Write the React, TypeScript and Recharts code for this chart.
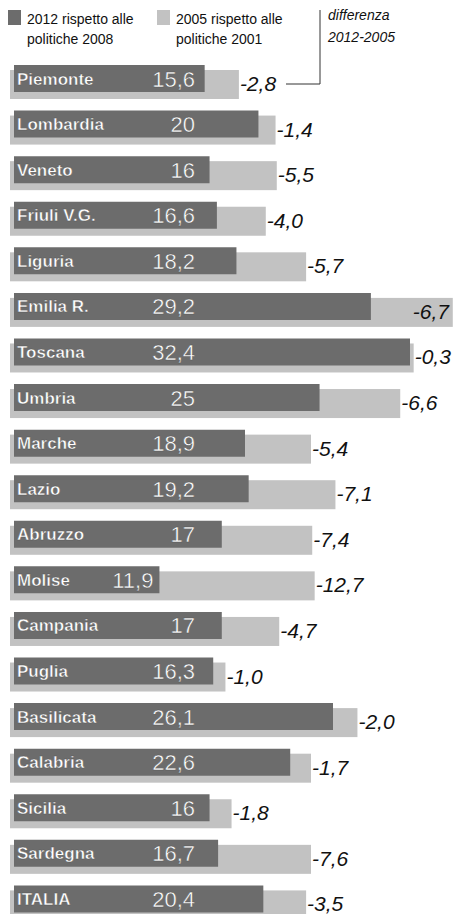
import React from "react";
import { BarChart, Bar, XAxis, YAxis, LabelList } from "recharts";

const regions = [
  "Piemonte", "Lombardia", "Veneto", "Friuli V.G.", "Liguria", "Emilia R.", "Toscana",
  "Umbria", "Marche", "Lazio", "Abruzzo", "Molise", "Campania", "Puglia", "Basilicata",
  "Calabria", "Sicilia", "Sardegna", "ITALIA",
];
const values2012 = [15.6, 20, 16, 16.6, 18.2, 29.2, 32.4, 25, 18.9, 19.2, 17, 11.9, 17, 16.3, 26.1, 22.6, 16, 16.7, 20.4];
const diff20122005 = [-2.8, -1.4, -5.5, -4.0, -5.7, -6.7, -0.3, -6.6, -5.4, -7.1, -7.4, -12.7, -4.7, -1.0, -2.0, -1.7, -1.8, -7.6, -3.5];

const data = regions.map((name, i) => ({
  name,
  v2012: values2012[i],
  diff: diff20122005[i],
  v2005: +(values2012[i] - diff20122005[i]).toFixed(1),
}));

const FONT = "'Liberation Sans', Arial, sans-serif";
const DARK = "#6c6c6c";
const LIGHT = "#c2c2c2";
const fmt = (v: number) => String(v).replace(".", ",");

const LightShape = (p: any) => (
  <rect x={p.x - 4} y={p.y + 5} width={p.width + 4} height={p.height + 1} fill={LIGHT} />
);

const NameLabel = (p: any) => (
  <text
    x={p.x + 3}
    y={p.y + p.height / 2 + 6}
    fontFamily={FONT}
    fontSize={17}
    fontWeight="bold"
    fill="#fff"
    stroke="#555"
    strokeWidth={0.4}
  >
    {p.value}
  </text>
);

const ValueLabel = (p: any) => {
  const end = Math.min(195, p.x + p.width - 6);
  return (
    <text
      x={end}
      y={p.y + p.height / 2 + 8}
      textAnchor="end"
      fontFamily={FONT}
      fontSize={22}
      fill="#fff"
      stroke="#555"
      strokeWidth={0.4}
    >
      {fmt(p.value)}
    </text>
  );
};

const DiffLabel = (p: any) => {
  const end = p.x + p.width;
  const x = end > 440 ? end - 40 : end + 1;
  return (
    <text
      x={x}
      y={p.y + p.height / 2 + 12}
      fontFamily={FONT}
      fontSize={21}
      fontStyle="italic"
      fill="#111"
    >
      {p.value.toFixed(1).replace(".", ",")}
    </text>
  );
};

export default function App() {
  return (
    <div
      style={{
        position: "absolute",
        left: 0,
        top: 0,
        width: 454,
        height: 914,
        overflow: "hidden",
        background: "#fff",
        fontFamily: FONT,
      }}
    >
      <BarChart
        width={454}
        height={922}
        data={data}
        layout="vertical"
        margin={{ top: 56, right: 0, bottom: 0, left: 14 }}
        barCategoryGap={0}
      >
        <XAxis type="number" domain={[0, 36]} hide />
        <YAxis yAxisId="light" type="category" dataKey="name" hide />
        <YAxis yAxisId="dark" type="category" dataKey="name" hide />
        <Bar yAxisId="light" dataKey="v2005" barSize={28} shape={LightShape} isAnimationActive={false}>
          <LabelList dataKey="diff" content={DiffLabel} />
        </Bar>
        <Bar yAxisId="dark" dataKey="v2012" barSize={27} fill={DARK} isAnimationActive={false}>
          <LabelList dataKey="name" content={NameLabel} />
          <LabelList dataKey="v2012" content={ValueLabel} />
        </Bar>
      </BarChart>

      <svg
        width={454}
        height={100}
        style={{ position: "absolute", left: 0, top: 0, pointerEvents: "none" }}
      >
        <rect x={8} y={10} width={13} height={15} fill={DARK} />
        <rect x={157} y={10} width={13} height={15} fill={LIGHT} />
        <g fontFamily={FONT} fontSize={14} fill="#111">
          <text x={27} y={24}>2012 rispetto alle</text>
          <text x={27} y={44}>politiche 2008</text>
          <text x={176} y={24}>2005 rispetto alle</text>
          <text x={176} y={44}>politiche 2001</text>
        </g>
        <g fontFamily={FONT} fontSize={14} fontStyle="italic" fill="#111">
          <text x={328} y={20}>differenza</text>
          <text x={328} y={42}>2012-2005</text>
        </g>
        <path d="M320 10 V84 H286" fill="none" stroke="#333" strokeWidth={1} />
      </svg>
    </div>
  );
}
